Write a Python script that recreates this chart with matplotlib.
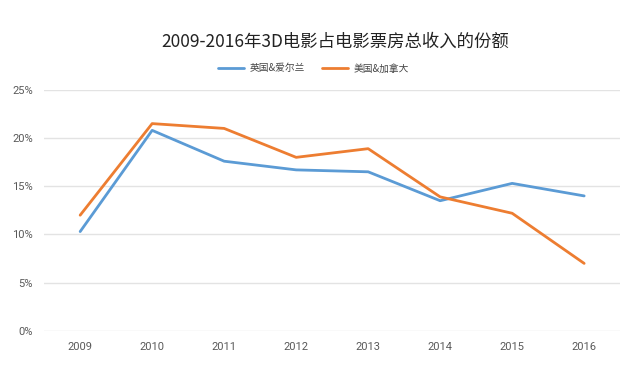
import matplotlib
matplotlib.use("Agg")
import matplotlib.pyplot as plt
from matplotlib.ticker import FuncFormatter

plt.rcParams['font.family'] = ['Noto Sans CJK SC', 'DejaVu Sans']

years = ['2009', '2010', '2011', '2012', '2013', '2014', '2015', '2016']
uk_ireland = [10.3, 20.8, 17.6, 16.7, 16.5, 13.5, 15.3, 14.0]
us_canada = [12.0, 21.5, 21.0, 18.0, 18.9, 13.9, 12.2, 7.0]
series_names = ['英国&爱尔兰', '美国&加拿大']
title = '2009-2016年3D电影占电影票房总收入的份额'
yticks = [0, 5, 10, 15, 20, 25]

fig = plt.figure(figsize=(6.4, 3.76), dpi=100)
ax = fig.add_axes([0.069, 0.12, 0.9, 0.641])

x = range(len(years))
ax.plot(x, uk_ireland, color='#5B9BD5', lw=2.0, label=series_names[0], solid_capstyle='round')
ax.plot(x, us_canada, color='#ED7D31', lw=2.0, label=series_names[1], solid_capstyle='round')

ax.set_xlim(-0.5, len(years) - 0.5)
ax.set_ylim(0, 25)
ax.set_yticks(yticks)
ax.yaxis.set_major_formatter(FuncFormatter(lambda v, p: f'{v:.0f}%'))
ax.set_xticks(list(x))
ax.set_xticklabels(years)
ax.grid(axis='y', color='#e3e3e3', lw=1)
ax.set_axisbelow(True)
for s in ax.spines.values():
    s.set_visible(False)
ax.tick_params(length=0, colors='#595959', labelsize=8)
ax.tick_params(axis='y', pad=8)
ax.tick_params(axis='x', pad=8)
for lab in ax.get_xticklabels() + ax.get_yticklabels():
    lab.set_fontfamily(['Roboto', 'DejaVu Sans'])

fig.text(0.523, 0.888, title, ha='center', va='center', fontsize=12.5, color='#222222')
fig.legend(loc='center', bbox_to_anchor=(0.49, 0.818), ncol=2, frameon=False,
           fontsize=7, handlelength=2.6, columnspacing=1.8, handletextpad=0.6,
           labelcolor='#444444')

fig.savefig('out.png', dpi=100, facecolor='white')
